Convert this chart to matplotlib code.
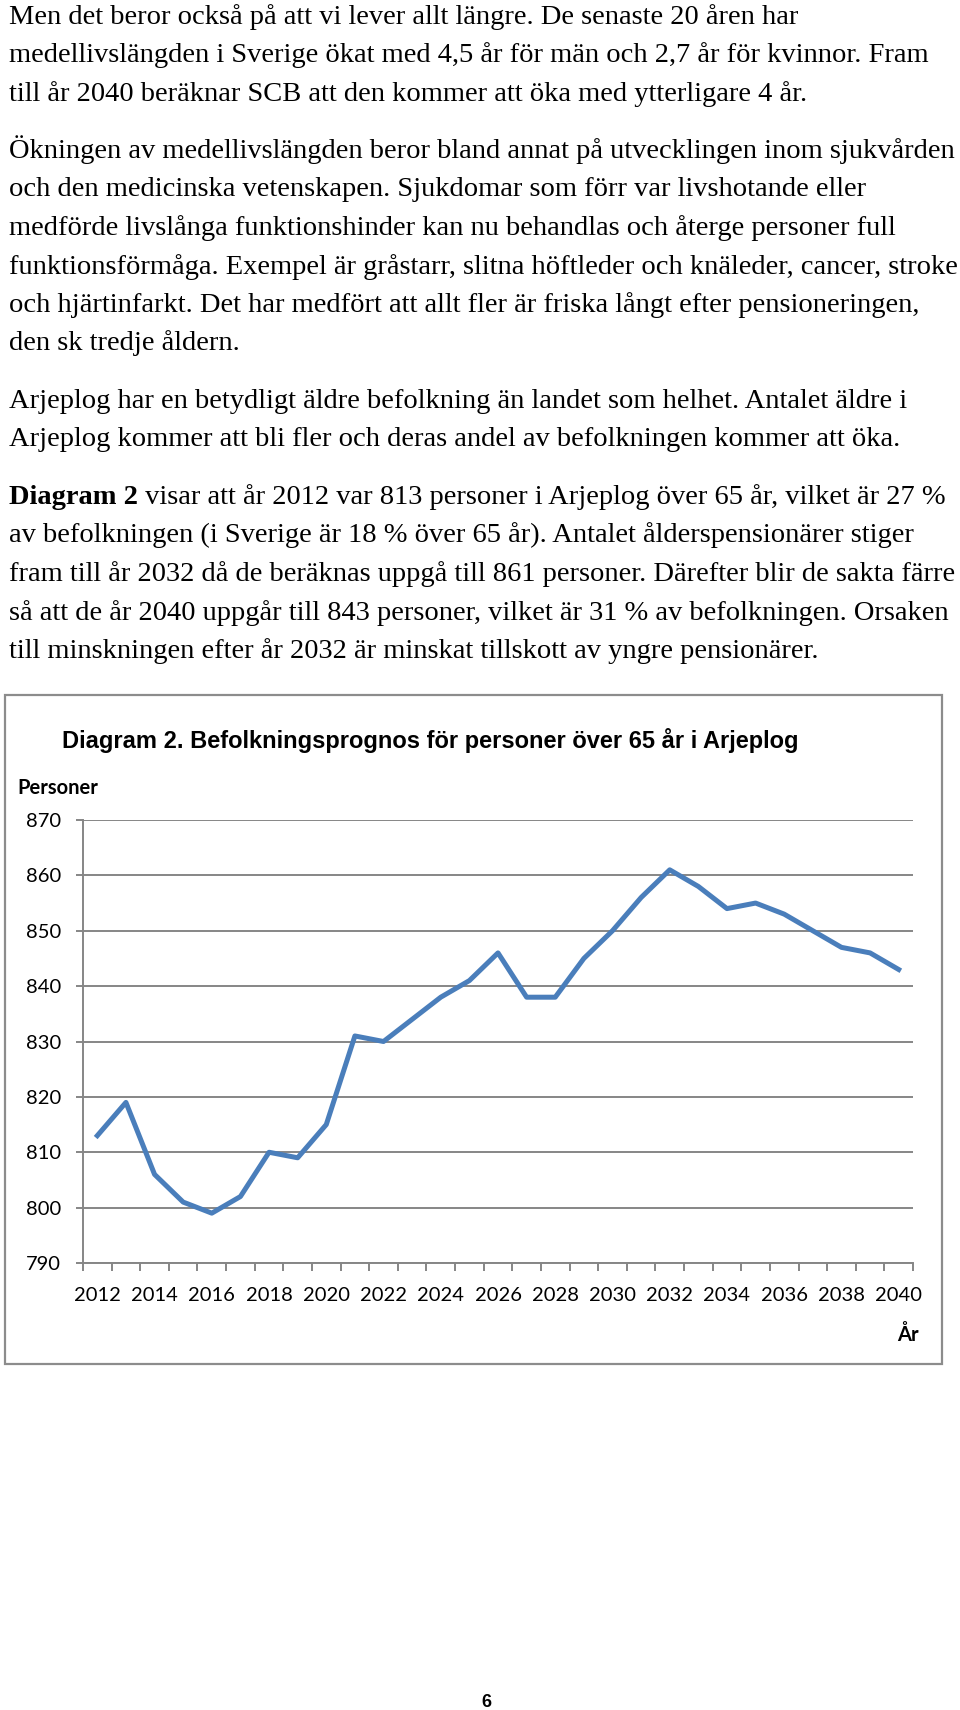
import matplotlib
matplotlib.use("Agg")
import matplotlib.pyplot as plt
from matplotlib.patches import Rectangle

# data
years = list(range(2012, 2041))
personer = [813, 819, 806, 801, 799, 802, 810, 809, 815, 831,
            830, 834, 838, 841, 846, 838, 838, 845, 850, 856,
            861, 858, 854, 855, 853, 850, 847, 846, 843]
y_ticks = [790, 800, 810, 820, 830, 840, 850, 860, 870]

title = "Diagram 2. Befolkningsprognos för personer över 65 år i Arjeplog"

para1 = ["Men det beror också på att vi lever allt längre. De senaste 20 åren har",
         "medellivslängden i Sverige ökat med 4,5 år för män och 2,7 år för kvinnor. Fram",
         "till år 2040 beräknar SCB att den kommer att öka med ytterligare 4 år."]
para2 = ["Ökningen av medellivslängden beror bland annat på utvecklingen inom sjukvården",
         "och den medicinska vetenskapen. Sjukdomar som förr var livshotande eller",
         "medförde livslånga funktionshinder kan nu behandlas och återge personer full",
         "funktionsförmåga. Exempel är gråstarr, slitna höftleder och knäleder, cancer, stroke",
         "och hjärtinfarkt. Det har medfört att allt fler är friska långt efter pensioneringen,",
         "den sk tredje åldern."]
para3 = ["Arjeplog har en betydligt äldre befolkning än landet som helhet. Antalet äldre i",
         "Arjeplog kommer att bli fler och deras andel av befolkningen kommer att öka."]
para4_bold = "Diagram 2"
para4 = [" visar att år 2012 var 813 personer i Arjeplog över 65 år, vilket är 27 %",
         "av befolkningen (i Sverige är 18 % över 65 år). Antalet ålderspensionärer stiger",
         "fram till år 2032 då de beräknas uppgå till 861 personer. Därefter blir de sakta färre",
         "så att de år 2040 uppgår till 843 personer, vilket är 31 % av befolkningen. Orsaken",
         "till minskningen efter år 2032 är minskat tillskott av yngre pensionärer."]

W, H = 960, 1710
fig = plt.figure(figsize=(W / 100, H / 100), dpi=100)

def fx(x):
    return x / W

def fy(y):
    return 1 - y / H

body = dict(family="Liberation Serif", fontsize=20.5, va="baseline", ha="left")
step = 38.5

def draw_para(lines, y0):
    for i, s in enumerate(lines):
        fig.text(fx(9), fy(y0 + i * step), s, **body)

draw_para(para1, 24)
draw_para(para2, 158)
draw_para(para3, 408)

# first line of the last paragraph starts with bold text
renderer = fig.canvas.get_renderer()
tb = fig.text(fx(9), fy(504), para4_bold, fontweight="bold", **body)
bw = tb.get_window_extent(renderer).width
fig.text(fx(9 + bw), fy(504), para4[0], **body)
draw_para(para4[1:], 504 + step)

# chart frame
fig.patches.append(Rectangle((fx(5), fy(1364)), fx(942) - fx(5), fy(695) - fy(1364),
                             transform=fig.transFigure, fill=False,
                             edgecolor="#8c8c8c", linewidth=1.6))

fig.text(fx(62), fy(740), title, family="Liberation Sans", fontweight="bold",
         fontsize=17, va="center", ha="left")
fig.text(fx(17), fy(788), "Personer", family="Lato", fontweight="bold",
         fontsize=14.5, va="center", ha="left")
fig.text(fx(919), fy(1335), "År", family="Lato", fontweight="bold",
         fontsize=14.5, va="center", ha="right")

# plot area
ax = fig.add_axes([fx(83), fy(1263), fx(913) - fx(83), fy(820) - fy(1263)])
idx = list(range(len(years)))
ax.plot(idx, personer, color="#4A7EBB", linewidth=3.6, solid_joinstyle="round")

ax.set_ylim(790, 870)
ax.set_yticks(y_ticks)
ax.set_xlim(-0.5, len(years) - 0.5)
ax.set_xticks(idx[::2])
ax.set_xticklabels([str(y) for y in years[::2]])
ax.set_xticks([i - 0.5 for i in range(len(years) + 1)], minor=True)

grey = "#868686"
ax.grid(axis="y", color=grey, linewidth=1.4)
ax.set_axisbelow(True)
for side in ["top", "right"]:
    ax.spines[side].set_visible(False)
for side in ["left", "bottom"]:
    ax.spines[side].set_color(grey)
    ax.spines[side].set_linewidth(1.4)

ax.tick_params(axis="x", which="major", length=0, pad=17)
ax.tick_params(axis="x", which="minor", length=6, width=1.4, color=grey)
ax.tick_params(axis="y", length=5, width=1.4, color=grey, pad=11)
for lab in ax.get_xticklabels() + ax.get_yticklabels():
    lab.set_family("Lato")
    lab.set_fontsize(14.5)

# page number
fig.text(fx(486), fy(1702), "6", family="Liberation Sans", fontweight="bold",
         fontsize=13, va="center", ha="center")

fig.savefig("out.png", dpi=100)
